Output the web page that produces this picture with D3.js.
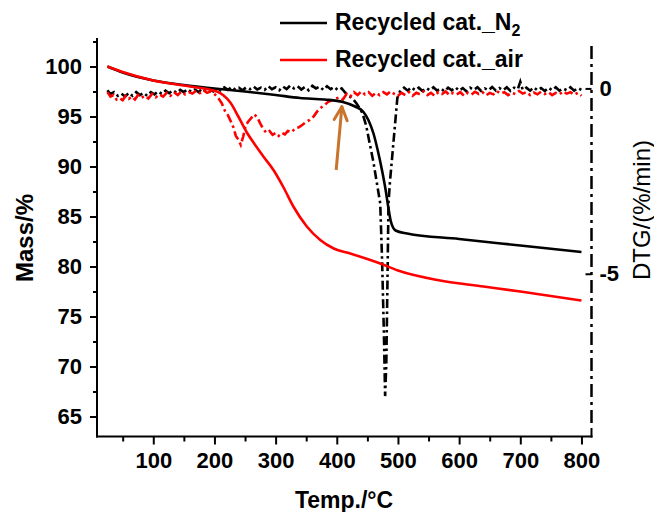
<!DOCTYPE html>
<html><head><meta charset="utf-8">
<script src="https://cdn.jsdelivr.net/npm/d3@7"></script>
<style>
body{margin:0;background:#fff;}
svg{display:block;}
text{font-family:"Liberation Sans",Arial,Helvetica,sans-serif;fill:#000;}
</style>
</head><body>
<svg id="c" width="654" height="512"></svg>
<script>
// ---- data (temperature °C, value) ----
const massN2 = [[25,100],[50,99.4],[100,98.6],[150,98.15],[200,97.8],[250,97.5],[300,97.15],[340,96.85],[380,96.7],[410,96.45],[430,96.0],[443,95.5],[452,94.6],[460,93.3],[467,91.6],[474,89.6],[480,87.6],[484,86.0],[488,84.6],[492,83.9],[496,83.6],[515,83.3],[600,82.75],[700,82.1],[800,81.45]];
const massAir = [[25,100],[50,99.45],[100,98.6],[160,98.0],[204,97.5],[215,97.1],[226,96.4],[239,95.0],[253,93.4],[266,92.2],[280,91.0],[297,89.6],[313,87.9],[329,86.0],[351,84.0],[373,82.65],[395,81.8],[422,81.3],[471,80.3],[500,79.6],[569,78.6],[640,78.0],[700,77.5],[800,76.6]];
const dtgN2 = [[25,-0.05],[30,-0.15],[36,-0.1],[42,-0.2],[48,-0.14],[54,-0.22],[60,-0.12],[66,-0.2],[72,-0.1],[78,-0.18],[84,-0.12],[90,-0.2],[96,-0.1],[102,-0.16],[108,-0.08],[114,-0.15],[120,-0.06],[126,-0.13],[132,-0.05],[138,-0.12],[144,-0.04],[150,-0.1],[156,-0.02],[162,-0.09],[168,-0.03],[174,-0.1],[180,0.0],[186,-0.07],[192,-0.02],[198,-0.08],[204,0.02],[210,-0.05],[216,0.03],[222,-0.04],[228,0.04],[234,-0.03],[240,0.02],[246,-0.05],[252,0.03],[258,-0.02],[264,0.05],[270,-0.03],[276,0.02],[282,-0.04],[288,0.06],[294,-0.02],[300,0.03],[306,-0.05],[312,0.05],[318,-0.02],[324,0.08],[330,0.0],[336,0.06],[342,-0.03],[348,0.04],[354,-0.05],[360,0.07],[366,0.0],[372,0.05],[378,-0.04],[384,0.06],[390,-0.02],[396,0.04],[402,-0.05],[408,0.0],[414,-0.12],[420,-0.2],[426,-0.28],[432,-0.4],[438,-0.55],[442,-0.67],[448,-1.0],[454,-1.5],[460,-2.0],[466,-2.6],[471,-3.1],[474,-4.6],[477,-6.6],[479,-8.3],[481,-7.4],[483,-5.0],[484.5,-3.1],[487,-2.5],[490,-1.95],[494,-1.2],[499,-0.26],[504,-0.05],[510,0.02],[516,-0.06],[522,0.03],[528,-0.05],[534,0.02],[540,-0.07],[546,0.01],[552,-0.05],[558,0.03],[564,-0.06],[570,0.0],[576,-0.08],[582,0.02],[588,-0.05],[594,0.03],[600,-0.06],[606,0.01],[612,-0.08],[618,0.02],[624,-0.04],[630,0.03],[636,-0.07],[642,0.0],[648,-0.05],[654,0.04],[660,-0.06],[666,0.01],[672,-0.05],[678,0.03],[684,-0.07],[690,0.02],[696,-0.02],[700,0.18],[704,-0.04],[710,0.02],[716,-0.06],[722,0.03],[728,-0.05],[734,0.01],[740,-0.07],[746,0.02],[752,-0.05],[758,0.03],[764,-0.06],[770,0.0],[776,-0.05],[782,0.03],[788,-0.06],[794,0.01],[800,-0.04]];
const dtgAir = [[25,-0.1],[30,-0.22],[35,-0.18],[40,-0.3],[45,-0.26],[50,-0.32],[55,-0.2],[60,-0.28],[65,-0.22],[70,-0.3],[75,-0.18],[80,-0.26],[86,-0.2],[92,-0.27],[98,-0.15],[104,-0.24],[110,-0.16],[116,-0.22],[122,-0.12],[128,-0.2],[134,-0.1],[140,-0.18],[146,-0.08],[152,-0.16],[158,-0.1],[164,-0.14],[170,-0.06],[176,-0.13],[182,-0.05],[188,-0.12],[194,-0.08],[200,-0.15],[206,-0.25],[212,-0.4],[217,-0.6],[222,-0.72],[227,-0.9],[231,-1.05],[235,-1.28],[239,-1.38],[243,-1.52],[247,-1.3],[251,-1.0],[255,-0.9],[260,-0.8],[265,-0.7],[270,-0.78],[275,-0.95],[280,-1.1],[285,-1.2],[290,-1.15],[295,-1.25],[300,-1.2],[305,-1.28],[310,-1.2],[315,-1.24],[320,-1.15],[326,-1.18],[332,-1.08],[338,-1.05],[344,-0.98],[350,-0.9],[356,-0.85],[362,-0.76],[368,-0.62],[374,-0.52],[380,-0.45],[386,-0.36],[392,-0.32],[398,-0.28],[404,-0.24],[410,-0.3],[416,-0.15],[422,-0.22],[428,-0.1],[434,-0.18],[440,-0.08],[446,-0.16],[452,-0.1],[458,-0.2],[464,-0.12],[470,-0.18],[476,-0.1],[482,-0.16],[488,-0.08],[494,-0.15],[500,-0.2],[506,-0.12],[512,-0.18],[518,-0.1],[524,-0.2],[530,-0.12],[536,-0.16],[542,-0.08],[548,-0.18],[554,-0.12],[560,-0.2],[566,-0.1],[572,-0.15],[578,-0.08],[584,-0.18],[590,-0.12],[596,-0.16],[602,-0.1],[608,-0.2],[614,-0.12],[620,-0.17],[626,-0.09],[632,-0.15],[638,-0.1],[644,-0.19],[650,-0.12],[656,-0.16],[662,-0.08],[668,-0.14],[674,-0.1],[680,-0.18],[686,-0.12],[692,-0.15],[698,-0.07],[704,-0.14],[710,-0.1],[716,-0.18],[722,-0.11],[728,-0.16],[734,-0.09],[740,-0.15],[746,-0.1],[752,-0.18],[758,-0.12],[764,-0.16],[770,-0.08],[776,-0.14],[782,-0.1],[788,-0.17],[794,-0.12],[800,-0.2]];

const xTicks = [100,200,300,400,500,600,700,800];
const xMinorTicks = [50,150,250,350,450,550,650,750];
const yTicks = [65,70,75,80,85,90,95,100];
const yMinorTicks = [67.5,72.5,77.5,82.5,87.5,92.5,97.5,102.5];
const y2Ticks = [0,-5];
const legendLabels = ["Recycled cat._N", "Recycled cat._air"];
const arrowFrom = [399, 89.65];
const arrowTo = [408.3, 95.98];

// ---- scales ----
const svg = d3.select('#c');
const x = d3.scaleLinear().domain([8, 816.4]).range([97, 591.5]);
const y = d3.scaleLinear().domain([63, 102.85]).range([436.5, 38]);
const y2 = d3.scaleLinear().domain([-9.39, 1.36]).range([436.5, 38]);

const massLine = d3.line().x(d=>x(d[0])).y(d=>y(d[1])).curve(d3.curveMonotoneX);
const dtgLine = d3.line().x(d=>x(d[0])).y(d=>y2(d[1]));

const DASH = "9,3.5,2.5,3.5";
svg.append('path').attr('d', dtgLine(dtgN2)).attr('fill','none').attr('stroke','#000')
  .attr('stroke-width',2.6).attr('stroke-dasharray',DASH);
svg.append('path').attr('d', dtgLine(dtgAir)).attr('fill','none').attr('stroke','#ff0000')
  .attr('stroke-width',2.6).attr('stroke-dasharray',DASH);
svg.append('path').attr('d', massLine(massN2)).attr('fill','none').attr('stroke','#000').attr('stroke-width',2.6);
svg.append('path').attr('d', massLine(massAir)).attr('fill','none').attr('stroke','#ff0000').attr('stroke-width',2.6);

// ---- axes ----
function styleAxis(g){
  g.select('.domain').remove();
  g.selectAll('.tick line').attr('stroke','#000').attr('stroke-width',2);
  g.selectAll('.tick text').style('font-size','22px').style('font-weight','bold')
   .style('font-family','"Liberation Sans",Arial,sans-serif').attr('fill','#000');
}
svg.append('g').attr('transform','translate(97,0)')
  .call(d3.axisLeft(y).tickValues(yTicks).tickSize(7).tickPadding(8)).call(styleAxis);
svg.append('g').attr('transform','translate(97,0)')
  .call(d3.axisLeft(y).tickValues(yMinorTicks).tickSize(4).tickFormat('')).call(styleAxis);
svg.append('g').attr('transform','translate(0,436.5)')
  .call(d3.axisBottom(x).tickValues(xTicks).tickSize(8).tickPadding(8)).call(styleAxis);
svg.append('g').attr('transform','translate(0,436.5)')
  .call(d3.axisBottom(x).tickValues(xMinorTicks).tickSize(5).tickFormat('')).call(styleAxis);
svg.append('g').attr('transform','translate(591.5,0)')
  .call(d3.axisRight(y2).tickValues(y2Ticks).tickSizeInner(-6).tickSizeOuter(0).tickPadding(8).tickFormat(d=>String(d)))
  .call(styleAxis);

// axis lines
svg.append('line').attr('x1',97).attr('x2',97).attr('y1',38).attr('y2',437.5).attr('stroke','#000').attr('stroke-width',2);
svg.append('line').attr('x1',96).attr('x2',592.5).attr('y1',436.5).attr('y2',436.5).attr('stroke','#000').attr('stroke-width',2);
svg.append('line').attr('x1',591.5).attr('x2',591.5).attr('y1',437.5).attr('y2',428).attr('stroke','#000').attr('stroke-width',2);
svg.append('line').attr('x1',591.5).attr('x2',591.5).attr('y1',46).attr('y2',428).attr('stroke','#000')
  .attr('stroke-width',2.5).attr('stroke-dasharray','13,5,3,5');

// axis titles
svg.append('text').attr('x',344).attr('y',508).attr('text-anchor','middle')
  .style('font-size','23px').style('font-weight','bold').text('Temp./°C');
svg.append('text').attr('transform','translate(33,238) rotate(-90)').attr('text-anchor','middle')
  .style('font-size','24px').style('font-weight','bold').text('Mass/%');
svg.append('text').attr('transform','translate(650,210) rotate(-90)').attr('text-anchor','middle')
  .style('font-size','24px').text('DTG/(%/min)');

// legend
const leg = [{c:'#000', y:23, t:legendLabels[0], sub:'2', by:30},{c:'#ff0000', y:60, t:legendLabels[1], sub:null, by:67}];
leg.forEach(l=>{
  svg.append('line').attr('x1',280).attr('x2',327).attr('y1',l.y).attr('y2',l.y).attr('stroke',l.c).attr('stroke-width',2.6);
  const t = svg.append('text').attr('x',335).attr('y',l.by).style('font-size','23px').style('font-weight','bold').text(l.t);
  if(l.sub) t.append('tspan').attr('dy',6).style('font-size','16px').text(l.sub);
});

// arrow annotation
const ax1=x(arrowFrom[0]), ay1=y(arrowFrom[1]), ax2=x(arrowTo[0]), ay2=y(arrowTo[1]);
const ang = Math.atan2(ay1-ay2, ax1-ax2);
const AC = '#c8742c';
svg.append('line').attr('x1',ax1).attr('y1',ay1).attr('x2',ax2).attr('y2',ay2).attr('stroke',AC).attr('stroke-width',3);
[-0.45,0.45].forEach(da=>{
  svg.append('line').attr('x1',ax2).attr('y1',ay2)
    .attr('x2',ax2+15*Math.cos(ang+da)).attr('y2',ay2+15*Math.sin(ang+da))
    .attr('stroke',AC).attr('stroke-width',3).attr('stroke-linecap','round');
});
</script>
</body></html>
